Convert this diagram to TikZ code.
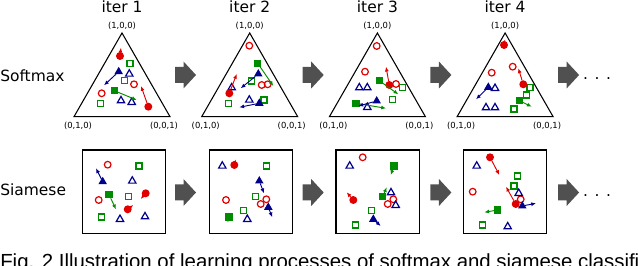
\documentclass[tikz,border=0pt]{standalone}
\usepackage{fontspec}
\setmainfont{DejaVu Sans}
\newfontfamily\capfont{Liberation Sans}
\usetikzlibrary{arrows.meta, shapes.geometric}
\definecolor{cls-red}{HTML}{E00000}
\definecolor{cls-green}{HTML}{008C00}
\definecolor{cls-blue}{HTML}{00008C}
\definecolor{step-gray}{HTML}{505050}

\tikzset{
  mk/.style={inner sep=0pt, line width=0.9pt},
  ocirc/.style={mk, circle, draw=cls-red, minimum size=5pt},
  osq/.style={mk, rectangle, draw=cls-green, minimum size=4.6pt},
  otri/.style={mk, regular polygon, regular polygon sides=3, draw=cls-blue, minimum size=6.4pt},
  fcirc/.style={ocirc, fill=cls-red},
  fsq/.style={osq, fill=cls-green},
  ftri/.style={otri, fill=cls-blue},
  mv/.style={line width=0.7pt, -{Latex[length=3.6pt,width=3pt]}},
  rmv/.style={mv, draw=cls-red},
  gmv/.style={mv, draw=cls-green},
  bmv/.style={mv, draw=cls-blue},
  simplex/.style={draw, line width=0.8pt, line join=miter},
  panelbox/.style={draw, line width=0.9pt, minimum size=62.5pt, inner sep=0pt},
  vlabel/.style={font=\fontsize{6.3}{7}\selectfont, inner sep=0pt},
  head/.style={font=\fontsize{11.6}{13}\selectfont, anchor=base, inner sep=0pt},
  rowlabel/.style={font=\fontsize{11.6}{13}\selectfont, anchor=base west, inner sep=0pt},
}

\begin{document}
\begin{tikzpicture}[x=0.75pt, y=-0.75pt]
  \useasboundingbox (0,0) rectangle (638,266);

  % headers and row labels
  \foreach \c [count=\k] in {122,249.7,377.4,505.1}
    \node[head] (iter\k) at (\c,13) {iter \k};
  \node[rowlabel] (softmax) at (0,82) {Softmax};
  \node[rowlabel] (siamese) at (0,195.5) {Siamese};

  % simplex panels
  \foreach \c [count=\k] in {122,249.7,377.4,505.1} {
    \coordinate (top\k) at (\c,33);
    \coordinate (bl\k) at (\c-48,116.7);
    \coordinate (br\k) at (\c+48,116.7);
    \draw[simplex] (top\k) -- (bl\k) -- (br\k) -- cycle;
    \node[vlabel] (ltop\k) at (\c,26) {(1,0,0)};
    \node[vlabel] (lbl\k) at (\c-44,125.5) {(0,1,0)};
    \node[vlabel] (lbr\k) at (\c+42,125.5) {(0,0,1)};
  }

  % embedding panels
  \foreach \c [count=\k] in {124,250.8,377.7,505}
    \node[panelbox] (box\k) at (\c,191.7) {};

  % step arrows
  \foreach \x in {175,302.7,430.4,558.1}
    \foreach \cy in {75,192.5}
      \fill[step-gray] (\x,\cy-8) -- (\x+8.5,\cy-8) -- (\x+8.5,\cy-13.5)
        -- (\x+21,\cy) -- (\x+8.5,\cy+13.5) -- (\x+8.5,\cy+8) -- (\x,\cy+8) -- cycle;
  \node[head] (more1) at (597,79.5) {. . .};
  \node[head] (more2) at (597,197) {. . .};

  % static samples
  \foreach \x/\y [count=\i] in {134/84.3, 101.7/93.3, 249.3/45.7, 261.7/85, 267.7/84.3,
      376.7/46, 365/71.7, 396/84, 512.7/66.7, 491.7/72.7, 107.7/164.7, 98.7/200,
      226/200, 260.7/204, 266.3/199.3, 362.7/157.3, 393.3/199.3, 387.7/204,
      472.7/191.7, 520.7/199.3}
    \node[ocirc] (oc\i) at (\x,\y) {};
  \foreach \x/\y [count=\i] in {130/63.3, 124.3/80.7, 100.7/103.3, 251.7/81, 264/100,
      228.3/103.3, 402.7/87.7, 392.3/99.3, 530/87.3, 526.7/95, 514/109,
      139/166, 128.3/196.3, 101.3/217, 266.3/166, 255.7/196.3, 243.3/210.3,
      371.3/210.3, 355.3/225, 517.3/176, 514/186, 482.3/225}
    \node[osq] (os\i) at (\x,\y) {};
  \foreach \x/\y [count=\i] in {129.3/74, 121/100.7, 131.7/102.3, 231.7/87.7, 249.3/100,
      359.3/87.7, 367.3/87.7, 367.3/107.3, 495/88.3, 486/107.7, 495/107.7,
      132.3/181, 120/219.3, 145/216.7, 222.3/166, 247.3/219.3,
      349.7/166, 391/192.7, 395.7/205.3, 476.7/166, 518.7/193.3, 507.7/226.7}
    \node[otri] (ot\i) at (\x,\y) {};

  % moving samples
  \foreach \x/\y/\u/\v [count=\i] in {120/56/121/47.7, 148.3/106.7/141/86,
      229.3/93.3/236.7/74, 389.3/85/386/66.7, 504/45/505/39.3, 523.3/84.3/518.3/68.3,
      145.7/193.3/140.7/199, 127.7/209.3/133.3/205, 234.3/165/235.7/159.3,
      353.3/200/346.7/192.3, 490/157.3/499.3/175, 515.7/204/506/186.7} {
    \node[fcirc] (fc\i) at (\x,\y) {};
    \coordinate (fct\i) at (\u,\v);
    \draw[rmv] (fc\i) -- (fct\i);
  }
  \foreach \x/\y/\u/\v [count=\i] in {114.3/90.7/136.7/100, 257.7/63.3/273.3/86,
      379.3/80.7/398.3/94.3, 356/103.3/386/108.3, 519.3/100.7/531.7/106.7,
      109/194.7/116/209.3, 229/217/227.7/222.7, 394/166/390.7/175,
      382.7/196.7/386.7/187.3, 497.7/210/484.3/212.3} {
    \node[fsq] (fs\i) at (\x,\y) {};
    \coordinate (fst\i) at (\u,\v);
    \draw[gmv] (fs\i) -- (fst\i);
  }
  \foreach \x/\y/\u/\v [count=\i] in {118.7/71.7/104/85.3, 258.3/74/240.7/88.3,
      259.3/103.3/239.3/107.3, 376.7/101/358.3/106, 488.3/87.3/476/99.3,
      102.7/181.7/96/168.3, 259.3/181/264/193.3, 268.3/207.3/272.3/217.3,
      373.3/219.3/380.7/226, 522.3/206/536/203.3} {
    \node[ftri, minimum size=5.6pt] (ft\i) at (\x,\y) {};
    \coordinate (ftt\i) at (\u,\v);
    \draw[bmv] (ft\i) -- (ftt\i);
  }

  % caption, cut by the lower edge as in the source
  \node[anchor=base west, inner sep=0pt, font=\capfont\fontsize{15.3}{17}\selectfont]
    (caption) at (0,269) {Fig. 2 Illustration of learning processes of softmax and siamese classifiers};
\end{tikzpicture}
\end{document}
